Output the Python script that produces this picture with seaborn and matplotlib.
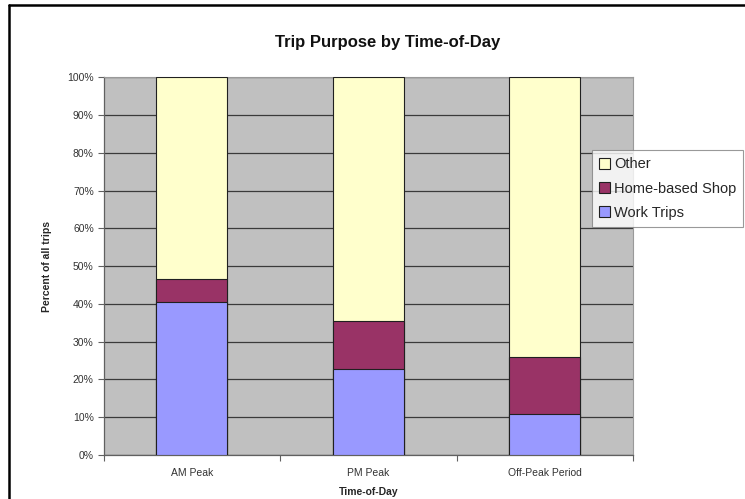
import matplotlib
matplotlib.use("Agg")
import matplotlib.pyplot as plt
from matplotlib.lines import Line2D
from matplotlib.patches import Patch
from matplotlib.ticker import PercentFormatter, FixedLocator, NullFormatter
import seaborn as sns
import pandas as pd

# Trip shares (percent of all trips) by time-of-day period
periods = ["AM Peak", "PM Peak", "Off-Peak Period"]
work_trips = [40.5, 22.8, 10.9]
home_shop = [6.1, 12.7, 15.0]
other = [53.4, 64.5, 74.1]

series_names = ["Work Trips", "Home-based Shop", "Other"]
series_colors = ["#9999FF", "#993366", "#FFFFCC"]

sns.set_theme(style="white")
plt.rcParams["font.family"] = ["Liberation Sans", "DejaVu Sans"]

df = pd.DataFrame({
    "period": periods,
    "work": work_trips,
    "shop": home_shop,
    "other": other,
})
df["cum_work"] = df["work"]
df["cum_shop"] = df["work"] + df["shop"]
df["cum_other"] = df["cum_shop"] + df["other"]

fig = plt.figure(figsize=(7.45, 4.99), dpi=100)
W, H = 745, 499
ax = fig.add_axes([103.5 / W, (H - 455) / H, (633 - 103.5) / W, (455 - 77.3) / H])
ax.set_facecolor("#C0C0C0")

# Stacked bars: draw cumulative totals from the top layer down
for col, color in zip(["cum_other", "cum_shop", "cum_work"], series_colors[::-1]):
    sns.barplot(data=df, x="period", y=col, order=periods, color=color,
                width=0.40, edgecolor="#202020", linewidth=0.8,
                saturation=1, ax=ax, zorder=3)

ax.set_ylim(0, 100)
ax.set_xlim(-0.5, 2.5)
ax.yaxis.set_major_locator(FixedLocator(range(0, 101, 10)))
ax.yaxis.set_major_formatter(PercentFormatter(decimals=0))
ax.grid(axis="y", color="#3a3a3a", linewidth=0.9, zorder=1)
ax.set_axisbelow(True)

# Category boundary ticks on the x axis, labels centred under each bar
ax.xaxis.set_minor_locator(FixedLocator([-0.5, 0.5, 1.5, 2.5]))
ax.xaxis.set_minor_formatter(NullFormatter())
ax.tick_params(axis="x", which="major", length=0, pad=9, labelsize=7.5,
               labelcolor="#333333")
ax.tick_params(axis="x", which="minor", length=4, width=0.8, color="#606060",
               direction="out", bottom=True)
ax.tick_params(axis="y", which="major", length=4, width=0.8, color="#606060",
               direction="out", left=True, pad=3, labelsize=7.5,
               labelcolor="#333333")

for side in ["top", "right"]:
    ax.spines[side].set_color("#9a9a9a")
    ax.spines[side].set_linewidth(0.8)
for side in ["left", "bottom"]:
    ax.spines[side].set_color("#606060")
    ax.spines[side].set_linewidth(0.9)

ax.set_xlabel("Time-of-Day", fontsize=7.5, fontweight="bold")
ax.set_ylabel("Percent of all trips", fontsize=7.5, fontweight="bold")
ax.xaxis.set_label_coords(0.5, -0.085)
ax.yaxis.set_label_coords(-0.098, 0.5)

fig.text(388 / W, 1 - 43 / H, "Trip Purpose by Time-of-Day", ha="center",
         va="center", fontsize=12, fontweight="bold", color="#111111")

handles = [Patch(facecolor=c, edgecolor="#202020", linewidth=0.8, label=n)
           for n, c in zip(series_names[::-1], series_colors[::-1])]
leg = fig.legend(handles=handles, loc="upper left",
                 bbox_to_anchor=(592 / W, 1 - 150 / H),
                 fontsize=10.5, frameon=True, fancybox=False,
                 handlelength=0.75, handleheight=0.75, handletextpad=0.25,
                 labelspacing=0.7, borderpad=0.5, borderaxespad=0)
leg.get_frame().set_edgecolor("#808080")
leg.get_frame().set_linewidth(0.8)

# Outer frame along the top and left edges
fig.add_artist(Line2D([9 / W, 1], [1 - 5 / H, 1 - 5 / H], color="black",
                      linewidth=1.8, transform=fig.transFigure))
fig.add_artist(Line2D([9 / W, 9 / W], [0, 1 - 5 / H], color="black",
                      linewidth=1.8, transform=fig.transFigure))

fig.savefig("out.png", dpi=100, facecolor="white")
